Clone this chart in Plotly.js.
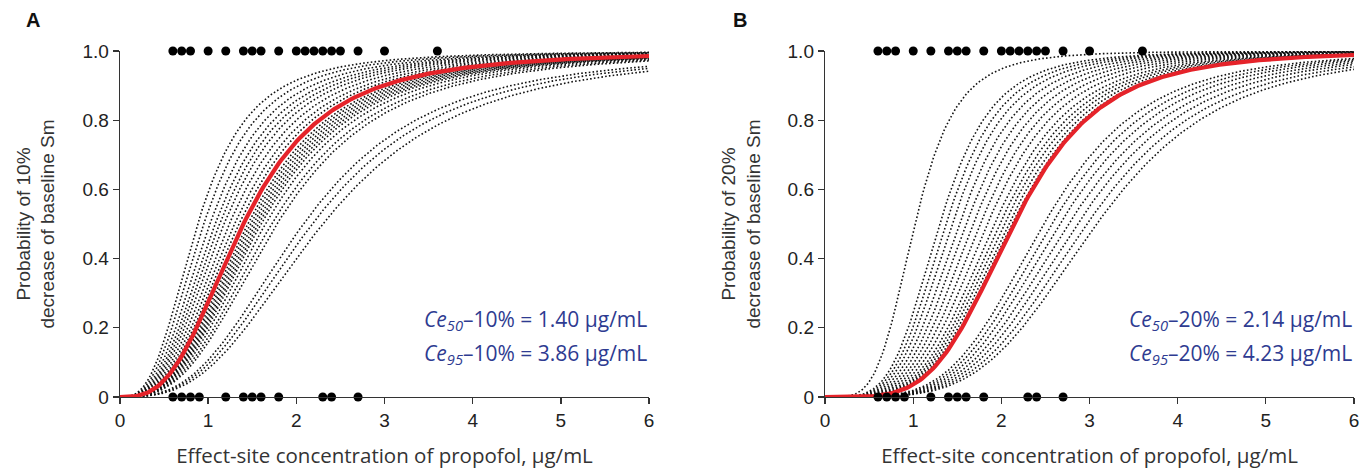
<!DOCTYPE html>
<html>
<head>
<meta charset="utf-8">
<script src="https://cdn.plot.ly/plotly-3.0.1.min.js"></script>
<style>html,body{margin:0;padding:0;background:#fff;}#chart{width:1371px;height:472px;}</style>
</head>
<body>
<div id="chart"></div>
<script>
// Observed responses (concentration, µg/mL) - responders at 1, non-responders at 0
const respondersX = [0.6, 0.7, 0.8, 1.0, 1.2, 1.4, 1.5, 1.6, 1.8, 2.0, 2.1, 2.2, 2.3, 2.4, 2.5, 2.7, 3.0, 3.6];
const nonRespondersX = [0.6, 0.7, 0.8, 0.9, 1.2, 1.4, 1.5, 1.6, 1.8, 2.3, 2.4, 2.7];

// Population estimates (from the annotations)
const popA = {ce50: 1.40, ce95: 3.86};
const popB = {ce50: 2.14, ce95: 4.23};

// Individual Ce50 estimates read from where each dotted curve crosses P = 0.5
const indivCe50A = [0.88, 0.95, 1.02, 1.08, 1.13, 1.18, 1.24, 1.30, 1.35, 1.45, 1.48, 1.51, 1.54, 1.57, 1.60, 1.65, 1.72, 1.78, 2.08, 2.18, 2.30];
const indivCe50B = [1.02, 1.30, 1.37, 1.44, 1.52, 1.60, 1.68, 1.76, 1.84, 1.92, 1.98, 2.03, 2.08, 2.12, 2.48, 2.57, 2.66, 2.76, 2.86, 2.97, 3.08];

const xTicks = [0, 1, 2, 3, 4, 5, 6];
const yTicks = [0, 0.2, 0.4, 0.6, 0.8, 1.0];
const yTickText = ['0', '0.2', '0.4', '0.6', '0.8', '1.0'];

// concentration grid for drawing the sigmoid Emax model curves
const concGrid = [];
for (let i = 0; i <= 240; i++) concGrid.push(i * 0.025);

function hillCurve(ce50, gamma) {
  return concGrid.map(c => c === 0 ? 0 : Math.pow(c, gamma) / (Math.pow(c, gamma) + Math.pow(ce50, gamma)));
}
function gammaOf(p) { return Math.log(19) / Math.log(p.ce95 / p.ce50); }

const traces = [];
function addPanel(pop, indiv, xa, ya) {
  const g = gammaOf(pop);
  indiv.forEach(c => traces.push({
    x: concGrid, y: hillCurve(c, g), xaxis: xa, yaxis: ya, mode: 'lines',
    line: {color: '#111', width: 1.6, dash: '1.6px,2.2px'}, hoverinfo: 'skip', showlegend: false
  }));
  traces.push({
    x: concGrid, y: hillCurve(pop.ce50, g), xaxis: xa, yaxis: ya, mode: 'lines',
    line: {color: '#e5232a', width: 4.2}, showlegend: false
  });
  traces.push({
    x: respondersX, y: respondersX.map(() => 1), xaxis: xa, yaxis: ya, mode: 'markers',
    marker: {color: '#000', size: 9}, cliponaxis: false, showlegend: false
  });
  traces.push({
    x: nonRespondersX, y: nonRespondersX.map(() => 0), xaxis: xa, yaxis: ya, mode: 'markers',
    marker: {color: '#000', size: 9}, cliponaxis: false, showlegend: false
  });
}
addPanel(popA, indivCe50A, 'x', 'y');
addPanel(popB, indivCe50B, 'x2', 'y2');

const tickFont = {family: 'Liberation Sans, Arial, sans-serif', size: 19, color: '#222'};
const xTitleFont = {family: 'Open Sans, sans-serif', size: 20.5, color: '#333'};
const yTitleFont = {family: 'Liberation Sans, Arial, sans-serif', size: 19, color: '#333'};

function xAxis(domain, anchor) {
  return {
    domain: domain, anchor: anchor, range: [0, 6], tickvals: xTicks, ticks: 'outside', ticklen: 6,
    tickwidth: 1.3, tickcolor: '#333', showline: true, linecolor: '#333', linewidth: 1.3,
    showgrid: false, zeroline: false, tickfont: tickFont,
    title: {text: 'Effect-site concentration of propofol, μg/mL', font: xTitleFont, standoff: 18}
  };
}
function yAxis(domain, anchor, pct) {
  return {
    domain: domain, anchor: anchor, range: [0, 1], tickvals: yTicks, ticktext: yTickText,
    ticks: 'outside', ticklen: 6, tickwidth: 1.3, tickcolor: '#333', showline: true,
    linecolor: '#333', linewidth: 1.3, showgrid: false, zeroline: false, tickfont: tickFont,
    title: {text: 'Probability of ' + pct + '<br>decrease of baseline Sm', font: yTitleFont, standoff: 22}
  };
}

const annBlue = '#2e3b91';
const annFont = {family: 'Open Sans, sans-serif', size: 21, color: annBlue};
function ceAnn(xref, yref, y, sub, pct, val) {
  return {xref: xref, yref: yref, x: 6, y: y, xanchor: 'right', yanchor: 'middle', showarrow: false,
    text: '<i>Ce</i><sub><i>' + sub + '</i></sub>–' + pct + ' = ' + val + ' μg/mL', font: annFont};
}

const layout = {
  width: 1371, height: 472, margin: {l: 0, r: 0, t: 0, b: 0},
  paper_bgcolor: '#fff', plot_bgcolor: '#fff', showlegend: false,
  xaxis: xAxis([0.0875, 0.4734], 'y'),
  yaxis: yAxis([0.1589, 0.8919], 'x', '10%'),
  xaxis2: xAxis([0.6018, 0.9876], 'y2'),
  yaxis2: yAxis([0.1589, 0.8919], 'x2', '20%'),
  annotations: [
    ceAnn('x', 'y', 0.222, '50', '10%', popA.ce50.toFixed(2)),
    ceAnn('x', 'y', 0.124, '95', '10%', popA.ce95.toFixed(2)),
    ceAnn('x2', 'y2', 0.222, '50', '20%', popB.ce50.toFixed(2)),
    ceAnn('x2', 'y2', 0.124, '95', '20%', popB.ce95.toFixed(2)),
    {xref: 'paper', yref: 'paper', x: 33 / 1371, y: 1 - 20 / 472, xanchor: 'center', yanchor: 'middle',
      showarrow: false, text: '<b>A</b>', font: {family: 'Liberation Sans, Arial, sans-serif', size: 20, color: '#111'}},
    {xref: 'paper', yref: 'paper', x: 740 / 1371, y: 1 - 20 / 472, xanchor: 'center', yanchor: 'middle',
      showarrow: false, text: '<b>B</b>', font: {family: 'Liberation Sans, Arial, sans-serif', size: 20, color: '#111'}}
  ]
};

Plotly.newPlot('chart', traces, layout, {displayModeBar: false, staticPlot: true});
</script>
</body>
</html>
